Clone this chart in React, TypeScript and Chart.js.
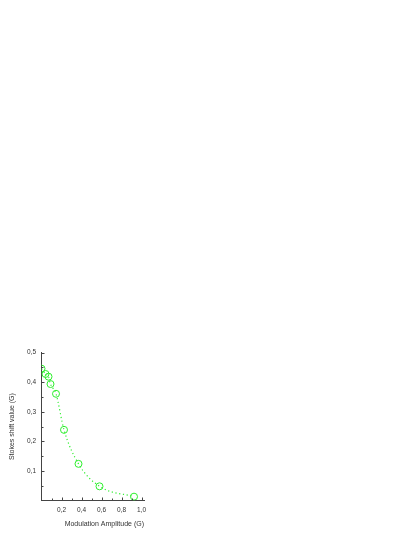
import React, { useEffect, useRef } from "react";
import { Chart, registerables } from "chart.js";

Chart.register(...registerables);

const modulationAmplitude = [0.0, 0.04, 0.07, 0.09, 0.145, 0.225, 0.37, 0.58, 0.925];
const stokesShift = [0.446, 0.428, 0.419, 0.394, 0.361, 0.239, 0.124, 0.048, 0.013];
const xTickValues = [0.2, 0.4, 0.6, 0.8, 1.0];
const yTickValues = [0.1, 0.2, 0.3, 0.4, 0.5];

const GREEN = "rgb(45,238,45)";
const AXIS = "#444";
const FONT = "'Liberation Sans', Arial, sans-serif";

const fmt = (v: number) => v.toFixed(1).replace(".", ",");

const inwardTicks = {
  id: "inwardTicks",
  afterDraw(chart: any) {
    const { ctx } = chart;
    const xs = chart.scales.x;
    const ys = chart.scales.y;
    const area = chart.chartArea;
    ctx.save();
    ctx.strokeStyle = AXIS;
    ctx.lineWidth = 1;
    ctx.beginPath();
    for (let i = 1; i <= 10; i++) {
      const v = i / 10;
      const px = Math.round(xs.getPixelForValue(v)) + 0.5;
      const len = i % 2 === 0 ? 3 : 2;
      ctx.moveTo(px, area.bottom);
      ctx.lineTo(px, area.bottom - len);
    }
    for (let i = 1; i <= 10; i++) {
      const v = i * 0.05;
      const py = Math.round(ys.getPixelForValue(v)) + 0.5;
      const len = i % 2 === 0 ? 3 : 2;
      ctx.moveTo(area.left, py);
      ctx.lineTo(area.left + len, py);
    }
    ctx.stroke();
    ctx.restore();
  },
};

export default function App() {
  const ref = useRef<HTMLCanvasElement | null>(null);
  useEffect(() => {
    if (!ref.current) return;
    const chart = new Chart(ref.current, {
      type: "line",
      data: {
        datasets: [
          {
            data: modulationAmplitude.map((x, i) => ({ x, y: stokesShift[i] })),
            borderColor: GREEN,
            borderWidth: 1.2,
            borderDash: [1.2, 2.6],
            cubicInterpolationMode: "monotone",
            pointStyle: "circle",
            pointRadius: 3.5,
            pointBorderWidth: 1,
            pointBorderColor: GREEN,
            pointBackgroundColor: "rgba(0,0,0,0)",
            fill: false,
          },
        ],
      },
      options: {
        responsive: false,
        animation: false,
        events: [],
        layout: { padding: { left: 0, right: 271, top: 352.7, bottom: 0 } },
        plugins: { legend: { display: false }, tooltip: { enabled: false } },
        scales: {
          x: {
            type: "linear",
            min: 0,
            max: 1.025,
            afterFit: (s: any) => {
              s.height = 36.5;
            },
            afterBuildTicks: (s: any) => {
              s.ticks = xTickValues.map((value) => ({ value }));
            },
            grid: { display: false, drawTicks: false },
            border: { display: true, color: AXIS, width: 1 },
            ticks: {
              padding: 6,
              color: "#333",
              font: { family: FONT, size: 6.5 },
              maxRotation: 0,
              autoSkip: false,
              callback: (v: any) => fmt(Number(v)),
            },
            title: {
              display: true,
              text: "Modulation Amplitude (G)",
              align: "end",
              color: "#333",
              font: { family: FONT, size: 7 },
              padding: { top: 0, bottom: 8.5 },
            },
          },
          y: {
            type: "linear",
            min: 0,
            max: 0.5,
            afterFit: (s: any) => {
              s.width = 41.5;
            },
            afterBuildTicks: (s: any) => {
              s.ticks = yTickValues.map((value) => ({ value }));
            },
            grid: { display: false, drawTicks: false },
            border: { display: true, color: AXIS, width: 1 },
            ticks: {
              padding: 5.5,
              color: "#333",
              font: { family: FONT, size: 6.5 },
              autoSkip: false,
              callback: (v: any) => fmt(Number(v)),
            },
            title: {
              display: true,
              text: "Stokes shift value (G)",
              color: "#333",
              font: { family: FONT, size: 7 },
              padding: { top: 7.5, bottom: 0 },
            },
          },
        },
      },
      plugins: [inwardTicks],
    });
    return () => chart.destroy();
  }, []);
  return (
    <canvas
      ref={ref}
      width={415}
      height={537}
      style={{ position: "absolute", left: 0, top: 0, width: 415, height: 537 }}
    />
  );
}
